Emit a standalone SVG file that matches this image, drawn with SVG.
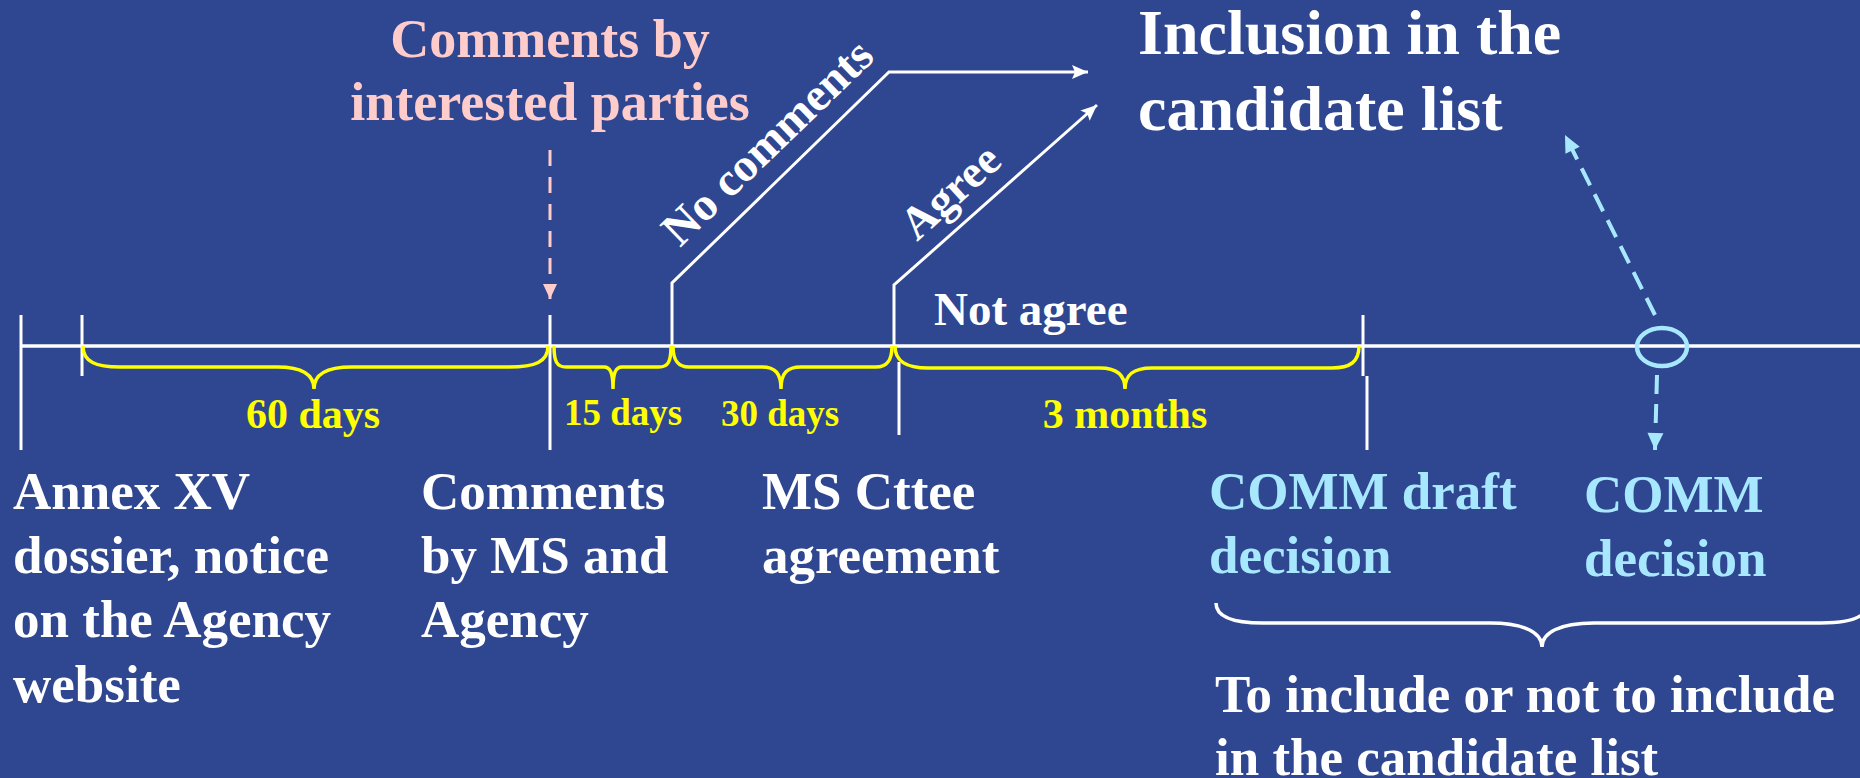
<svg xmlns="http://www.w3.org/2000/svg" width="1860" height="778" viewBox="0 0 1860 778">
<defs>
<style>
text{font-family:"Liberation Serif","Times New Roman",serif;font-weight:bold}
.w{fill:#FFFFFF}
.lbl{font-size:53px}
.cy{fill:#A8E8FF}
.yl{fill:#FFFF00;text-anchor:middle}
.pk{fill:#FFCCCC}
.tl{stroke:#FFFFFF;stroke-width:3.5;fill:none}
.tick{stroke:#FFFFFF;stroke-width:3;fill:none}
.brace{stroke:#FFFF00;stroke-width:3.5;fill:none}
.wbrace{stroke:#FFFFFF;stroke-width:3.5;fill:none}
.conn{stroke:#FFFFFF;stroke-width:3;fill:none}
.pdash{stroke:#FFCCCC;stroke-width:3;fill:none;stroke-dasharray:16 11}
.cdash{stroke:#A8E8FF;stroke-width:4;fill:none;stroke-dasharray:19 10}
</style>
<marker id="aw" viewBox="-2 -10 20 20" refX="16" refY="0" markerWidth="20" markerHeight="20" markerUnits="userSpaceOnUse" orient="auto">
<path d="M0,-7 L16,0 L0,7 L3,0 Z" fill="#FFFFFF"/>
</marker>
<marker id="ap" viewBox="-2 -10 20 20" refX="15" refY="0" markerWidth="20" markerHeight="20" markerUnits="userSpaceOnUse" orient="auto">
<path d="M0,-7 L15,0 L0,7 Z" fill="#FFCCCC"/>
</marker>
<marker id="ac" viewBox="-2 -10 22 20" refX="17" refY="0" markerWidth="22" markerHeight="20" markerUnits="userSpaceOnUse" orient="auto">
<path d="M0,-8 L17,0 L0,8 Z" fill="#A8E8FF"/>
</marker>
</defs>
<rect x="0" y="0" width="1860" height="778" fill="#2F4690"/>

<g id="timeline">
<line class="tl" x1="21" y1="346" x2="1860" y2="346"/>
<line class="tick" x1="21" y1="315" x2="21" y2="450"/>
<line class="tick" x1="82" y1="315" x2="82" y2="376"/>
<line class="tick" x1="550" y1="315" x2="550" y2="450"/>
<line class="tick" x1="899" y1="362" x2="899" y2="435"/>
<line class="tick" x1="1363" y1="315" x2="1363" y2="376"/>
<line class="tick" x1="1367" y1="376" x2="1367" y2="450"/>
</g>

<g id="braces">
<path class="brace" d="M83,346 C83,362 96,367 120,367 L277,367 C302,367 314,374 314,389 C314,374 326,367 352,367 L509,367 C535,367 548,362 548,346"/>
<path class="brace" d="M554,346 C554,362 557,367 566,367 L604,367 C610,367 613,372 613,389 C613,372 616,367 622,367 L659,367 C668,367 671,362 671,346"/>
<path class="brace" d="M673,346 C673,362 679,367 689,367 L762,367 C775,367 781,373 781,389 C781,373 787,367 801,367 L876,367 C886,367 892,362 892,346"/>
<path class="brace" d="M895,346 C895,362 907,368 928,368 L1100,368 C1117,368 1125,375 1125,389 C1125,375 1133,368 1152,368 L1332,368 C1350,368 1359,362 1359,346"/>
<path class="wbrace" d="M1216,603 C1216,618 1235,623 1263,623 L1490,623 C1525,623 1542,633 1542,647 C1542,633 1559,623 1594,623 L1821,623 C1849,623 1868,618 1868,603"/>
</g>

<g id="connectors">
<path class="conn" d="M672,346 L672,283 L889,72 L1088,72" marker-end="url(#aw)"/>
<path class="conn" d="M894,346 L894,285 L1097,105" marker-end="url(#aw)"/>
<line class="pdash" x1="550" y1="150" x2="550" y2="299" marker-end="url(#ap)"/>
<line class="cdash" x1="1655" y1="315" x2="1565" y2="135" marker-end="url(#ac)"/>
<line class="cdash" x1="1657" y1="375" x2="1655" y2="450" marker-end="url(#ac)"/>
<ellipse cx="1662" cy="347" rx="25" ry="19" fill="none" stroke="#A8E8FF" stroke-width="4.5"/>
</g>

<g id="duration-labels">
<text class="yl" x="313" y="428" font-size="42">60 days</text>
<text class="yl" x="623" y="425" font-size="37">15 days</text>
<text class="yl" x="780" y="426" font-size="37">30 days</text>
<text class="yl" x="1125" y="428" font-size="42">3 months</text>
</g>

<g id="node-inclusion">
<text class="w" x="1138" y="54" font-size="64">Inclusion in the</text>
<text class="w" x="1138" y="130" font-size="64">candidate list</text>
</g>

<g id="node-interested">
<text class="pk" x="550" y="57" font-size="54" text-anchor="middle">Comments by</text>
<text class="pk" x="550" y="120" font-size="54" text-anchor="middle">interested parties</text>
</g>

<g id="label-nocomments">
<text class="w" font-size="47" transform="translate(680,248) rotate(-44)">No comments</text>
</g>
<g id="label-agree">
<text class="w" font-size="46" transform="translate(917,242) rotate(-42)">Agree</text>
</g>
<g id="label-notagree">
<text class="w" x="934" y="325" font-size="47">Not agree</text>
</g>

<g id="node-annex">
<text class="w lbl" x="13" y="509">Annex XV</text>
<text class="w lbl" x="13" y="573">dossier, notice</text>
<text class="w lbl" x="13" y="637">on the Agency</text>
<text class="w lbl" x="13" y="702">website</text>
</g>

<g id="node-comments-ms">
<text class="w lbl" x="421" y="509">Comments</text>
<text class="w lbl" x="421" y="573">by MS and</text>
<text class="w lbl" x="421" y="637">Agency</text>
</g>

<g id="node-ms-cttee">
<text class="w lbl" x="762" y="509">MS Cttee</text>
<text class="w lbl" x="762" y="573">agreement</text>
</g>

<g id="node-comm-draft">
<text class="cy lbl" x="1209" y="509">COMM draft</text>
<text class="cy lbl" x="1209" y="573">decision</text>
</g>

<g id="node-comm-decision">
<text class="cy lbl" x="1584" y="512">COMM</text>
<text class="cy lbl" x="1584" y="576">decision</text>
</g>

<g id="node-include">
<text class="w lbl" x="1215" y="712">To include or not to include</text>
<text class="w lbl" x="1215" y="775">in the candidate list</text>
</g>
</svg>
